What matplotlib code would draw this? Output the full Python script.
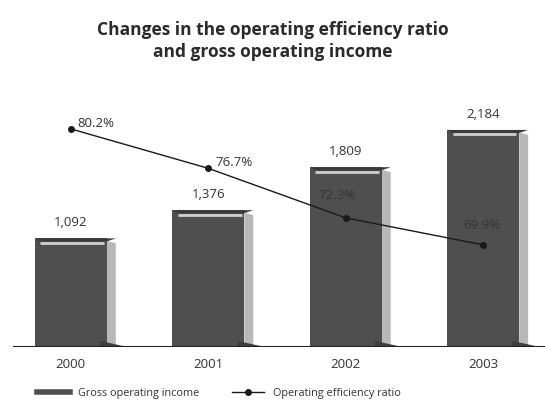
import matplotlib
matplotlib.use("Agg")
import matplotlib.pyplot as plt
from matplotlib.patches import Rectangle, Polygon
from matplotlib.lines import Line2D

years = ["2000", "2001", "2002", "2003"]
income = [1092, 1376, 1809, 2184]
income_labels = ["1,092", "1,376", "1,809", "2,184"]
ratio = [80.2, 76.7, 72.3, 69.9]
ratio_labels = ["80.2%", "76.7%", "72.3%", "69.9%"]

plt.rcParams['font.family'] = ['Open Sans', 'DejaVu Sans']
txt = '#333333'

fig = plt.figure(figsize=(5.45, 4.01), dpi=100)
ax = fig.add_axes([0.024, 0.135, 0.976, 0.616])
ax.set_xlim(-0.42, 3.45)
ax.set_ylim(0, 2487)

w = 0.525
side = 0.065
front = '#4f4f4f'
sidec = '#b8b8b8'
for i, v in enumerate(income):
    x0 = i - w / 2
    # side face
    ax.add_patch(Polygon([(x0 + w, 0), (x0 + w, v - 25), (x0 + w + side, v - 50),
                          (x0 + w + side, 0)], closed=True, facecolor=sidec,
                         edgecolor='none', zorder=2))
    # front face
    ax.add_patch(Rectangle((x0, 0), w, v, facecolor=front, edgecolor='none', zorder=3))
    # top bevel
    ax.add_patch(Polygon([(x0, v), (x0 + w + side, v), (x0 + w, v - 30), (x0 + 0.04, v - 30)],
                         closed=True, facecolor='#3a3a3a', edgecolor='none', zorder=4))
    ax.plot([x0 + 0.04, x0 + w - 0.02], [v - 45, v - 45], color='#d0d0d0', lw=2.0,
            zorder=5, solid_capstyle='butt')
    # bottom shadow
    ax.add_patch(Polygon([(x0 + w - 0.05, 0), (x0 + w - 0.05, 60), (x0 + w + side + 0.08, 0)],
                         closed=True, facecolor='#3e3e3e', edgecolor='none', zorder=4))
    ax.text(i, v + 90, income_labels[i], ha='center', va='bottom', fontsize=9.5, color=txt)

ax.axhline(0, color='#222222', lw=1.5, zorder=6)
for s in ax.spines.values():
    s.set_visible(False)
ax.set_xticks(range(len(years)))
ax.set_xticklabels(years, fontsize=9.5, color=txt)
ax.tick_params(axis='x', length=0, pad=8)
ax.set_yticks([])

ax2 = ax.twinx()
ax2.set_ylim(60.84, 82.78)
for s in ax2.spines.values():
    s.set_visible(False)
ax2.set_yticks([])
ax2.plot(range(len(ratio)), ratio, color='#1a1a1a', lw=1.0, marker='o', ms=4,
         zorder=7)
offsets = [(5, 4), (5, 4), (-6, 16), (-1, 14)]
has = ['left', 'left', 'center', 'center']
for i, (r, lab) in enumerate(zip(ratio, ratio_labels)):
    ax2.annotate(lab, (i, r), xytext=offsets[i], textcoords='offset points',
                 ha=has[i], va='center', fontsize=9.5, color=txt, zorder=8)

fig.text(0.5, 0.898, "Changes in the operating efficiency ratio\nand gross operating income",
         ha='center', va='center', fontsize=12.5, fontweight='bold', color='#2a2a2a',
         linespacing=1.3)

handles = [Line2D([0], [0], color=front, lw=4),
           Line2D([0], [0], color='#1a1a1a', lw=1, marker='o', ms=4)]
fig.legend(handles, ["Gross operating income", "Operating efficiency ratio"],
           loc='lower left', bbox_to_anchor=(0.05, -0.02), ncol=2, frameon=False,
           fontsize=7.8, handlelength=3, columnspacing=3, labelcolor=txt)

fig.savefig("out.png", dpi=100)
